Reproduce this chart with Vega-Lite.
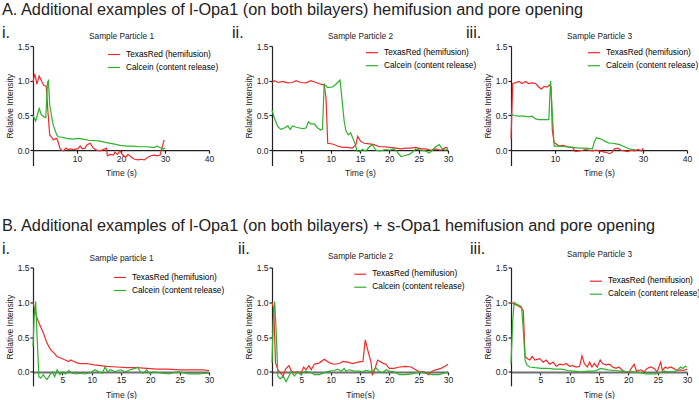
{
"$schema": "https://vega.github.io/schema/vega-lite/v6.json",
"autosize": {"type": "pad"},
"padding": {"left": 2, "top": 2, "right": 0, "bottom": 0},
"background": "white",
"config": {
 "font": "Liberation Sans",
 "view": {"stroke": null},
 "axis": {"grid": false, "labelFontSize": 8.5, "titleFontSize": 8.5, "titleFontWeight": "normal", "labelColor": "#222", "titleColor": "#222", "domainColor": "#222", "tickColor": "#222", "tickSize": 3, "labelPadding": 1, "labelFlush": false, "domainWidth": 1.2, "tickWidth": 1.2},
 "legend": {"symbolType": "stroke", "symbolSize": 144, "symbolStrokeWidth": 1.5, "labelFontSize": 8.3, "labelOffset": 5, "padding": 0, "rowPadding": 2},
 "title": {"fontWeight": "normal", "color": "#222", "fontSize": 16.3, "anchor": "start", "frame": "group", "offset": 0, "lineHeight": 23},
 "line": {"strokeWidth": 1.2}
},
"datasets": {
"a1": [
{"t":0,"v":0.98,"s":"TexasRed (hemifusion)"},{"t":0.4,"v":1.1,"s":"TexasRed (hemifusion)"},{"t":0.9,"v":0.95,"s":"TexasRed (hemifusion)"},{"t":1.4,"v":1.07,"s":"TexasRed (hemifusion)"},{"t":2.0,"v":0.99,"s":"TexasRed (hemifusion)"},{"t":2.5,"v":0.93,"s":"TexasRed (hemifusion)"},{"t":3.0,"v":0.92,"s":"TexasRed (hemifusion)"},{"t":3.4,"v":0.55,"s":"TexasRed (hemifusion)"},{"t":3.8,"v":0.22,"s":"TexasRed (hemifusion)"},{"t":4.2,"v":0.19,"s":"TexasRed (hemifusion)"},{"t":4.6,"v":0.15,"s":"TexasRed (hemifusion)"},{"t":5.0,"v":0.16,"s":"TexasRed (hemifusion)"},{"t":5.4,"v":0.17,"s":"TexasRed (hemifusion)"},{"t":5.8,"v":0.1,"s":"TexasRed (hemifusion)"},{"t":6.1,"v":0.03,"s":"TexasRed (hemifusion)"},{"t":6.5,"v":0.0,"s":"TexasRed (hemifusion)"},{"t":6.9,"v":-0.01,"s":"TexasRed (hemifusion)"},{"t":7.5,"v":0.03,"s":"TexasRed (hemifusion)"},{"t":8.0,"v":0.01,"s":"TexasRed (hemifusion)"},{"t":8.6,"v":0.02,"s":"TexasRed (hemifusion)"},{"t":9.2,"v":0.01,"s":"TexasRed (hemifusion)"},{"t":9.8,"v":0.02,"s":"TexasRed (hemifusion)"},{"t":10.2,"v":0.02,"s":"TexasRed (hemifusion)"},{"t":10.7,"v":0.06,"s":"TexasRed (hemifusion)"},{"t":11.2,"v":0.02,"s":"TexasRed (hemifusion)"},{"t":11.8,"v":0.03,"s":"TexasRed (hemifusion)"},{"t":12.3,"v":0.08,"s":"TexasRed (hemifusion)"},{"t":13.0,"v":0.1,"s":"TexasRed (hemifusion)"},{"t":13.7,"v":0.03,"s":"TexasRed (hemifusion)"},{"t":14.5,"v":0.0,"s":"TexasRed (hemifusion)"},{"t":15.2,"v":-0.01,"s":"TexasRed (hemifusion)"},{"t":16.0,"v":0.01,"s":"TexasRed (hemifusion)"},{"t":16.7,"v":0.03,"s":"TexasRed (hemifusion)"},{"t":16.9,"v":-0.08,"s":"TexasRed (hemifusion)"},{"t":17.5,"v":-0.06,"s":"TexasRed (hemifusion)"},{"t":18.3,"v":-0.07,"s":"TexasRed (hemifusion)"},{"t":18.6,"v":-0.03,"s":"TexasRed (hemifusion)"},{"t":19.2,"v":-0.06,"s":"TexasRed (hemifusion)"},{"t":19.8,"v":-0.01,"s":"TexasRed (hemifusion)"},{"t":20.4,"v":-0.07,"s":"TexasRed (hemifusion)"},{"t":21.1,"v":-0.1,"s":"TexasRed (hemifusion)"},{"t":21.6,"v":-0.06,"s":"TexasRed (hemifusion)"},{"t":22.4,"v":-0.1,"s":"TexasRed (hemifusion)"},{"t":23.1,"v":-0.13,"s":"TexasRed (hemifusion)"},{"t":23.9,"v":-0.14,"s":"TexasRed (hemifusion)"},{"t":24.6,"v":-0.13,"s":"TexasRed (hemifusion)"},{"t":25.3,"v":-0.14,"s":"TexasRed (hemifusion)"},{"t":26.1,"v":-0.1,"s":"TexasRed (hemifusion)"},{"t":26.8,"v":-0.08,"s":"TexasRed (hemifusion)"},{"t":27.5,"v":-0.07,"s":"TexasRed (hemifusion)"},{"t":28.2,"v":-0.08,"s":"TexasRed (hemifusion)"},{"t":28.9,"v":-0.07,"s":"TexasRed (hemifusion)"},{"t":29.3,"v":0.03,"s":"TexasRed (hemifusion)"},{"t":29.8,"v":0.15,"s":"TexasRed (hemifusion)"},
{"t":0,"v":0.5,"s":"Calcein (content release)"},{"t":0.6,"v":0.42,"s":"Calcein (content release)"},{"t":1.4,"v":0.6,"s":"Calcein (content release)"},{"t":1.9,"v":0.51,"s":"Calcein (content release)"},{"t":2.5,"v":0.48,"s":"Calcein (content release)"},{"t":2.9,"v":0.47,"s":"Calcein (content release)"},{"t":3.3,"v":0.98,"s":"Calcein (content release)"},{"t":3.5,"v":1.0,"s":"Calcein (content release)"},{"t":3.8,"v":0.65,"s":"Calcein (content release)"},{"t":4.2,"v":0.5,"s":"Calcein (content release)"},{"t":4.6,"v":0.36,"s":"Calcein (content release)"},{"t":5.0,"v":0.29,"s":"Calcein (content release)"},{"t":5.4,"v":0.22,"s":"Calcein (content release)"},{"t":5.8,"v":0.19,"s":"Calcein (content release)"},{"t":6.5,"v":0.19,"s":"Calcein (content release)"},{"t":7.6,"v":0.17,"s":"Calcein (content release)"},{"t":9.1,"v":0.16,"s":"Calcein (content release)"},{"t":10.3,"v":0.17,"s":"Calcein (content release)"},{"t":11.4,"v":0.16,"s":"Calcein (content release)"},{"t":12.9,"v":0.14,"s":"Calcein (content release)"},{"t":14.0,"v":0.14,"s":"Calcein (content release)"},{"t":15.2,"v":0.13,"s":"Calcein (content release)"},{"t":16.7,"v":0.11,"s":"Calcein (content release)"},{"t":18.3,"v":0.09,"s":"Calcein (content release)"},{"t":19.8,"v":0.07,"s":"Calcein (content release)"},{"t":21.3,"v":0.06,"s":"Calcein (content release)"},{"t":22.8,"v":0.06,"s":"Calcein (content release)"},{"t":24.3,"v":0.05,"s":"Calcein (content release)"},{"t":25.8,"v":0.05,"s":"Calcein (content release)"},{"t":27.0,"v":0.04,"s":"Calcein (content release)"},{"t":27.7,"v":0.04,"s":"Calcein (content release)"},{"t":28.1,"v":0.06,"s":"Calcein (content release)"},{"t":28.8,"v":0.04,"s":"Calcein (content release)"},{"t":29.5,"v":0.02,"s":"Calcein (content release)"},{"t":30,"v":0.03,"s":"Calcein (content release)"}
],
"a2": [
{"t":0,"v":0.975,"s":"TexasRed (hemifusion)"},{"t":0.4,"v":1.0,"s":"TexasRed (hemifusion)"},{"t":1.0,"v":0.975,"s":"TexasRed (hemifusion)"},{"t":1.8,"v":0.99,"s":"TexasRed (hemifusion)"},{"t":2.7,"v":0.97,"s":"TexasRed (hemifusion)"},{"t":3.5,"v":0.975,"s":"TexasRed (hemifusion)"},{"t":4.1,"v":1.0,"s":"TexasRed (hemifusion)"},{"t":4.9,"v":0.975,"s":"TexasRed (hemifusion)"},{"t":5.8,"v":0.97,"s":"TexasRed (hemifusion)"},{"t":6.6,"v":1.0,"s":"TexasRed (hemifusion)"},{"t":7.5,"v":0.975,"s":"TexasRed (hemifusion)"},{"t":8.3,"v":0.95,"s":"TexasRed (hemifusion)"},{"t":8.9,"v":0.94,"s":"TexasRed (hemifusion)"},{"t":9.2,"v":0.76,"s":"TexasRed (hemifusion)"},{"t":9.5,"v":0.1,"s":"TexasRed (hemifusion)"},{"t":10.3,"v":0.09,"s":"TexasRed (hemifusion)"},{"t":11.2,"v":0.06,"s":"TexasRed (hemifusion)"},{"t":12.0,"v":0.04,"s":"TexasRed (hemifusion)"},{"t":12.9,"v":0.04,"s":"TexasRed (hemifusion)"},{"t":13.7,"v":0.03,"s":"TexasRed (hemifusion)"},{"t":14.3,"v":0.08,"s":"TexasRed (hemifusion)"},{"t":14.6,"v":0.2,"s":"TexasRed (hemifusion)"},{"t":15.1,"v":0.13,"s":"TexasRed (hemifusion)"},{"t":15.7,"v":0.1,"s":"TexasRed (hemifusion)"},{"t":16.6,"v":0.09,"s":"TexasRed (hemifusion)"},{"t":17.4,"v":0.08,"s":"TexasRed (hemifusion)"},{"t":18.3,"v":0.05,"s":"TexasRed (hemifusion)"},{"t":19.1,"v":0.05,"s":"TexasRed (hemifusion)"},{"t":20.0,"v":0.04,"s":"TexasRed (hemifusion)"},{"t":21.1,"v":0.03,"s":"TexasRed (hemifusion)"},{"t":22.0,"v":0.02,"s":"TexasRed (hemifusion)"},{"t":22.8,"v":0.03,"s":"TexasRed (hemifusion)"},{"t":23.7,"v":0.03,"s":"TexasRed (hemifusion)"},{"t":24.5,"v":0.04,"s":"TexasRed (hemifusion)"},{"t":25.4,"v":0.02,"s":"TexasRed (hemifusion)"},{"t":26.2,"v":0.02,"s":"TexasRed (hemifusion)"},{"t":27.1,"v":0.0,"s":"TexasRed (hemifusion)"},{"t":27.9,"v":0.02,"s":"TexasRed (hemifusion)"},{"t":28.8,"v":0.0,"s":"TexasRed (hemifusion)"},{"t":29.6,"v":0.04,"s":"TexasRed (hemifusion)"},{"t":30,"v":0.03,"s":"TexasRed (hemifusion)"},
{"t":0,"v":0.58,"s":"Calcein (content release)"},{"t":0.4,"v":0.46,"s":"Calcein (content release)"},{"t":1.0,"v":0.34,"s":"Calcein (content release)"},{"t":1.5,"v":0.3,"s":"Calcein (content release)"},{"t":2.1,"v":0.32,"s":"Calcein (content release)"},{"t":2.7,"v":0.35,"s":"Calcein (content release)"},{"t":3.1,"v":0.3,"s":"Calcein (content release)"},{"t":3.5,"v":0.35,"s":"Calcein (content release)"},{"t":4.1,"v":0.33,"s":"Calcein (content release)"},{"t":4.7,"v":0.32,"s":"Calcein (content release)"},{"t":5.2,"v":0.31,"s":"Calcein (content release)"},{"t":5.8,"v":0.32,"s":"Calcein (content release)"},{"t":6.2,"v":0.41,"s":"Calcein (content release)"},{"t":6.6,"v":0.38,"s":"Calcein (content release)"},{"t":7.2,"v":0.38,"s":"Calcein (content release)"},{"t":7.8,"v":0.32,"s":"Calcein (content release)"},{"t":8.3,"v":0.29,"s":"Calcein (content release)"},{"t":8.6,"v":0.3,"s":"Calcein (content release)"},{"t":8.9,"v":0.95,"s":"Calcein (content release)"},{"t":9.5,"v":0.9,"s":"Calcein (content release)"},{"t":10.3,"v":0.91,"s":"Calcein (content release)"},{"t":10.9,"v":0.95,"s":"Calcein (content release)"},{"t":11.6,"v":1.01,"s":"Calcein (content release)"},{"t":11.9,"v":0.76,"s":"Calcein (content release)"},{"t":12.3,"v":0.42,"s":"Calcein (content release)"},{"t":12.6,"v":0.28,"s":"Calcein (content release)"},{"t":13.0,"v":0.22,"s":"Calcein (content release)"},{"t":13.4,"v":0.25,"s":"Calcein (content release)"},{"t":13.8,"v":0.17,"s":"Calcein (content release)"},{"t":14.2,"v":0.08,"s":"Calcein (content release)"},{"t":14.5,"v":-0.01,"s":"Calcein (content release)"},{"t":14.9,"v":-0.02,"s":"Calcein (content release)"},{"t":15.4,"v":0.01,"s":"Calcein (content release)"},{"t":16.0,"v":-0.01,"s":"Calcein (content release)"},{"t":16.6,"v":0.05,"s":"Calcein (content release)"},{"t":17.1,"v":0.08,"s":"Calcein (content release)"},{"t":17.7,"v":0.0,"s":"Calcein (content release)"},{"t":18.5,"v":-0.01,"s":"Calcein (content release)"},{"t":19.4,"v":0.01,"s":"Calcein (content release)"},{"t":20.0,"v":0.0,"s":"Calcein (content release)"},{"t":20.8,"v":0.02,"s":"Calcein (content release)"},{"t":21.4,"v":-0.03,"s":"Calcein (content release)"},{"t":22.0,"v":-0.09,"s":"Calcein (content release)"},{"t":22.5,"v":-0.08,"s":"Calcein (content release)"},{"t":23.4,"v":-0.06,"s":"Calcein (content release)"},{"t":23.9,"v":-0.03,"s":"Calcein (content release)"},{"t":24.5,"v":0.02,"s":"Calcein (content release)"},{"t":25.4,"v":0.0,"s":"Calcein (content release)"},{"t":26.2,"v":-0.01,"s":"Calcein (content release)"},{"t":26.8,"v":-0.04,"s":"Calcein (content release)"},{"t":27.3,"v":0.0,"s":"Calcein (content release)"},{"t":27.9,"v":0.05,"s":"Calcein (content release)"},{"t":28.5,"v":0.08,"s":"Calcein (content release)"},{"t":29.0,"v":0.02,"s":"Calcein (content release)"},{"t":29.6,"v":0.0,"s":"Calcein (content release)"},{"t":30,"v":0.02,"s":"Calcein (content release)"}
],
"a3": [
{"t":0,"v":0.16,"s":"TexasRed (hemifusion)"},{"t":0.4,"v":0.96,"s":"TexasRed (hemifusion)"},{"t":1.0,"v":0.97,"s":"TexasRed (hemifusion)"},{"t":1.8,"v":0.99,"s":"TexasRed (hemifusion)"},{"t":2.5,"v":0.96,"s":"TexasRed (hemifusion)"},{"t":3.3,"v":0.99,"s":"TexasRed (hemifusion)"},{"t":4.0,"v":0.96,"s":"TexasRed (hemifusion)"},{"t":4.8,"v":0.97,"s":"TexasRed (hemifusion)"},{"t":5.6,"v":0.96,"s":"TexasRed (hemifusion)"},{"t":6.3,"v":0.91,"s":"TexasRed (hemifusion)"},{"t":6.9,"v":0.88,"s":"TexasRed (hemifusion)"},{"t":7.5,"v":0.92,"s":"TexasRed (hemifusion)"},{"t":8.2,"v":0.91,"s":"TexasRed (hemifusion)"},{"t":8.8,"v":0.94,"s":"TexasRed (hemifusion)"},{"t":9.1,"v":0.91,"s":"TexasRed (hemifusion)"},{"t":9.4,"v":0.28,"s":"TexasRed (hemifusion)"},{"t":9.8,"v":0.11,"s":"TexasRed (hemifusion)"},{"t":10.3,"v":0.09,"s":"TexasRed (hemifusion)"},{"t":10.9,"v":0.06,"s":"TexasRed (hemifusion)"},{"t":11.7,"v":0.07,"s":"TexasRed (hemifusion)"},{"t":12.4,"v":0.06,"s":"TexasRed (hemifusion)"},{"t":13.2,"v":0.04,"s":"TexasRed (hemifusion)"},{"t":14.0,"v":0.04,"s":"TexasRed (hemifusion)"},{"t":14.6,"v":-0.02,"s":"TexasRed (hemifusion)"},{"t":15.5,"v":-0.01,"s":"TexasRed (hemifusion)"},{"t":16.3,"v":0.0,"s":"TexasRed (hemifusion)"},{"t":17.0,"v":0.01,"s":"TexasRed (hemifusion)"},{"t":17.8,"v":0.0,"s":"TexasRed (hemifusion)"},{"t":18.5,"v":-0.01,"s":"TexasRed (hemifusion)"},{"t":19.3,"v":0.0,"s":"TexasRed (hemifusion)"},{"t":20.0,"v":-0.01,"s":"TexasRed (hemifusion)"},{"t":20.8,"v":-0.02,"s":"TexasRed (hemifusion)"},{"t":21.6,"v":-0.03,"s":"TexasRed (hemifusion)"},{"t":22.4,"v":-0.05,"s":"TexasRed (hemifusion)"},{"t":23.0,"v":-0.03,"s":"TexasRed (hemifusion)"},{"t":23.5,"v":0.02,"s":"TexasRed (hemifusion)"},{"t":24.3,"v":0.03,"s":"TexasRed (hemifusion)"},{"t":25.0,"v":0.0,"s":"TexasRed (hemifusion)"},{"t":25.8,"v":-0.01,"s":"TexasRed (hemifusion)"},{"t":26.6,"v":-0.02,"s":"TexasRed (hemifusion)"},{"t":27.3,"v":0.0,"s":"TexasRed (hemifusion)"},{"t":28.1,"v":-0.01,"s":"TexasRed (hemifusion)"},{"t":28.9,"v":0.01,"s":"TexasRed (hemifusion)"},{"t":29.6,"v":-0.01,"s":"TexasRed (hemifusion)"},{"t":30.1,"v":0.03,"s":"TexasRed (hemifusion)"},
{"t":0,"v":0.52,"s":"Calcein (content release)"},{"t":0.6,"v":0.5,"s":"Calcein (content release)"},{"t":1.8,"v":0.49,"s":"Calcein (content release)"},{"t":2.9,"v":0.49,"s":"Calcein (content release)"},{"t":4.0,"v":0.48,"s":"Calcein (content release)"},{"t":4.8,"v":0.49,"s":"Calcein (content release)"},{"t":5.6,"v":0.45,"s":"Calcein (content release)"},{"t":6.3,"v":0.44,"s":"Calcein (content release)"},{"t":7.1,"v":0.44,"s":"Calcein (content release)"},{"t":7.9,"v":0.44,"s":"Calcein (content release)"},{"t":8.6,"v":0.44,"s":"Calcein (content release)"},{"t":9.0,"v":1.0,"s":"Calcein (content release)"},{"t":9.4,"v":0.52,"s":"Calcein (content release)"},{"t":9.8,"v":0.06,"s":"Calcein (content release)"},{"t":10.9,"v":0.06,"s":"Calcein (content release)"},{"t":12.4,"v":0.05,"s":"Calcein (content release)"},{"t":14.0,"v":0.04,"s":"Calcein (content release)"},{"t":15.5,"v":0.03,"s":"Calcein (content release)"},{"t":17.0,"v":0.03,"s":"Calcein (content release)"},{"t":18.5,"v":0.02,"s":"Calcein (content release)"},{"t":18.9,"v":0.11,"s":"Calcein (content release)"},{"t":19.4,"v":0.18,"s":"Calcein (content release)"},{"t":20.0,"v":0.17,"s":"Calcein (content release)"},{"t":20.8,"v":0.15,"s":"Calcein (content release)"},{"t":21.6,"v":0.12,"s":"Calcein (content release)"},{"t":22.4,"v":0.1,"s":"Calcein (content release)"},{"t":23.1,"v":0.1,"s":"Calcein (content release)"},{"t":23.9,"v":0.09,"s":"Calcein (content release)"},{"t":24.7,"v":0.08,"s":"Calcein (content release)"},{"t":25.4,"v":0.06,"s":"Calcein (content release)"},{"t":26.2,"v":0.04,"s":"Calcein (content release)"},{"t":26.9,"v":0.02,"s":"Calcein (content release)"},{"t":27.7,"v":0.01,"s":"Calcein (content release)"},{"t":28.3,"v":0.01,"s":"Calcein (content release)"}
],
"b1": [
{"t":0,"v":1.0,"s":"TexasRed (hemifusion)"},{"t":0.3,"v":0.89,"s":"TexasRed (hemifusion)"},{"t":0.7,"v":0.77,"s":"TexasRed (hemifusion)"},{"t":1.3,"v":0.65,"s":"TexasRed (hemifusion)"},{"t":1.9,"v":0.53,"s":"TexasRed (hemifusion)"},{"t":2.4,"v":0.41,"s":"TexasRed (hemifusion)"},{"t":3.0,"v":0.32,"s":"TexasRed (hemifusion)"},{"t":3.6,"v":0.27,"s":"TexasRed (hemifusion)"},{"t":4.1,"v":0.22,"s":"TexasRed (hemifusion)"},{"t":4.7,"v":0.2,"s":"TexasRed (hemifusion)"},{"t":5.5,"v":0.17,"s":"TexasRed (hemifusion)"},{"t":6.1,"v":0.15,"s":"TexasRed (hemifusion)"},{"t":6.4,"v":0.17,"s":"TexasRed (hemifusion)"},{"t":7.0,"v":0.15,"s":"TexasRed (hemifusion)"},{"t":7.5,"v":0.13,"s":"TexasRed (hemifusion)"},{"t":8.1,"v":0.12,"s":"TexasRed (hemifusion)"},{"t":9.2,"v":0.12,"s":"TexasRed (hemifusion)"},{"t":10.4,"v":0.1,"s":"TexasRed (hemifusion)"},{"t":11.5,"v":0.09,"s":"TexasRed (hemifusion)"},{"t":12.6,"v":0.08,"s":"TexasRed (hemifusion)"},{"t":14.3,"v":0.07,"s":"TexasRed (hemifusion)"},{"t":16.0,"v":0.06,"s":"TexasRed (hemifusion)"},{"t":17.7,"v":0.06,"s":"TexasRed (hemifusion)"},{"t":19.4,"v":0.05,"s":"TexasRed (hemifusion)"},{"t":21.1,"v":0.04,"s":"TexasRed (hemifusion)"},{"t":22.8,"v":0.04,"s":"TexasRed (hemifusion)"},{"t":25.1,"v":0.03,"s":"TexasRed (hemifusion)"},{"t":27.3,"v":0.03,"s":"TexasRed (hemifusion)"},{"t":29.0,"v":0.03,"s":"TexasRed (hemifusion)"},{"t":30,"v":0.02,"s":"TexasRed (hemifusion)"},
{"t":0,"v":0.36,"s":"Calcein (content release)"},{"t":0.2,"v":0.8,"s":"Calcein (content release)"},{"t":0.45,"v":1.01,"s":"Calcein (content release)"},{"t":0.7,"v":0.5,"s":"Calcein (content release)"},{"t":1.0,"v":-0.07,"s":"Calcein (content release)"},{"t":1.3,"v":-0.09,"s":"Calcein (content release)"},{"t":1.75,"v":-0.04,"s":"Calcein (content release)"},{"t":2.15,"v":-0.09,"s":"Calcein (content release)"},{"t":2.4,"v":-0.11,"s":"Calcein (content release)"},{"t":2.9,"v":-0.04,"s":"Calcein (content release)"},{"t":3.3,"v":0.0,"s":"Calcein (content release)"},{"t":3.7,"v":-0.07,"s":"Calcein (content release)"},{"t":4.1,"v":0.03,"s":"Calcein (content release)"},{"t":4.6,"v":-0.04,"s":"Calcein (content release)"},{"t":5.0,"v":0.0,"s":"Calcein (content release)"},{"t":5.5,"v":-0.03,"s":"Calcein (content release)"},{"t":6.1,"v":0.02,"s":"Calcein (content release)"},{"t":6.7,"v":-0.02,"s":"Calcein (content release)"},{"t":7.2,"v":-0.03,"s":"Calcein (content release)"},{"t":8.1,"v":-0.02,"s":"Calcein (content release)"},{"t":8.9,"v":-0.03,"s":"Calcein (content release)"},{"t":9.8,"v":-0.01,"s":"Calcein (content release)"},{"t":10.6,"v":0.03,"s":"Calcein (content release)"},{"t":11.2,"v":0.0,"s":"Calcein (content release)"},{"t":11.8,"v":-0.02,"s":"Calcein (content release)"},{"t":12.3,"v":0.07,"s":"Calcein (content release)"},{"t":12.7,"v":0.0,"s":"Calcein (content release)"},{"t":13.2,"v":0.03,"s":"Calcein (content release)"},{"t":14.0,"v":0.0,"s":"Calcein (content release)"},{"t":14.9,"v":0.03,"s":"Calcein (content release)"},{"t":15.7,"v":0.0,"s":"Calcein (content release)"},{"t":16.6,"v":0.03,"s":"Calcein (content release)"},{"t":17.4,"v":0.05,"s":"Calcein (content release)"},{"t":17.8,"v":0.07,"s":"Calcein (content release)"},{"t":18.3,"v":0.0,"s":"Calcein (content release)"},{"t":18.8,"v":-0.02,"s":"Calcein (content release)"},{"t":19.4,"v":0.03,"s":"Calcein (content release)"},{"t":20.0,"v":-0.03,"s":"Calcein (content release)"},{"t":20.5,"v":0.0,"s":"Calcein (content release)"},{"t":21.4,"v":-0.01,"s":"Calcein (content release)"},{"t":22.2,"v":-0.02,"s":"Calcein (content release)"},{"t":23.1,"v":-0.03,"s":"Calcein (content release)"},{"t":23.9,"v":-0.01,"s":"Calcein (content release)"},{"t":24.8,"v":0.0,"s":"Calcein (content release)"},{"t":25.6,"v":-0.01,"s":"Calcein (content release)"},{"t":26.5,"v":-0.03,"s":"Calcein (content release)"},{"t":27.3,"v":-0.03,"s":"Calcein (content release)"},{"t":28.5,"v":-0.03,"s":"Calcein (content release)"},{"t":29.3,"v":-0.02,"s":"Calcein (content release)"},{"t":30,"v":-0.02,"s":"Calcein (content release)"}
],
"b2": [
{"t":0,"v":1.0,"s":"TexasRed (hemifusion)"},{"t":0.3,"v":0.9,"s":"TexasRed (hemifusion)"},{"t":0.6,"v":0.13,"s":"TexasRed (hemifusion)"},{"t":1.0,"v":0.03,"s":"TexasRed (hemifusion)"},{"t":1.4,"v":-0.01,"s":"TexasRed (hemifusion)"},{"t":1.9,"v":-0.06,"s":"TexasRed (hemifusion)"},{"t":2.3,"v":0.04,"s":"TexasRed (hemifusion)"},{"t":2.9,"v":0.09,"s":"TexasRed (hemifusion)"},{"t":3.3,"v":0.01,"s":"TexasRed (hemifusion)"},{"t":3.8,"v":-0.01,"s":"TexasRed (hemifusion)"},{"t":4.4,"v":0.0,"s":"TexasRed (hemifusion)"},{"t":5.0,"v":-0.01,"s":"TexasRed (hemifusion)"},{"t":5.4,"v":0.07,"s":"TexasRed (hemifusion)"},{"t":5.8,"v":0.03,"s":"TexasRed (hemifusion)"},{"t":6.3,"v":0.09,"s":"TexasRed (hemifusion)"},{"t":6.7,"v":0.03,"s":"TexasRed (hemifusion)"},{"t":7.2,"v":0.11,"s":"TexasRed (hemifusion)"},{"t":8.1,"v":0.13,"s":"TexasRed (hemifusion)"},{"t":8.9,"v":0.18,"s":"TexasRed (hemifusion)"},{"t":9.8,"v":0.13,"s":"TexasRed (hemifusion)"},{"t":10.6,"v":0.11,"s":"TexasRed (hemifusion)"},{"t":11.5,"v":0.12,"s":"TexasRed (hemifusion)"},{"t":12.1,"v":0.15,"s":"TexasRed (hemifusion)"},{"t":12.9,"v":0.14,"s":"TexasRed (hemifusion)"},{"t":13.8,"v":0.12,"s":"TexasRed (hemifusion)"},{"t":14.6,"v":0.14,"s":"TexasRed (hemifusion)"},{"t":15.5,"v":0.15,"s":"TexasRed (hemifusion)"},{"t":15.9,"v":0.46,"s":"TexasRed (hemifusion)"},{"t":16.3,"v":0.32,"s":"TexasRed (hemifusion)"},{"t":16.9,"v":0.13,"s":"TexasRed (hemifusion)"},{"t":17.1,"v":-0.05,"s":"TexasRed (hemifusion)"},{"t":17.6,"v":0.06,"s":"TexasRed (hemifusion)"},{"t":18.0,"v":0.17,"s":"TexasRed (hemifusion)"},{"t":18.8,"v":0.13,"s":"TexasRed (hemifusion)"},{"t":19.4,"v":0.11,"s":"TexasRed (hemifusion)"},{"t":20.0,"v":0.05,"s":"TexasRed (hemifusion)"},{"t":20.8,"v":0.05,"s":"TexasRed (hemifusion)"},{"t":21.7,"v":0.07,"s":"TexasRed (hemifusion)"},{"t":22.8,"v":0.08,"s":"TexasRed (hemifusion)"},{"t":23.7,"v":0.07,"s":"TexasRed (hemifusion)"},{"t":24.5,"v":0.03,"s":"TexasRed (hemifusion)"},{"t":25.1,"v":0.0,"s":"TexasRed (hemifusion)"},{"t":25.9,"v":0.0,"s":"TexasRed (hemifusion)"},{"t":26.7,"v":-0.04,"s":"TexasRed (hemifusion)"},{"t":27.3,"v":0.01,"s":"TexasRed (hemifusion)"},{"t":27.9,"v":0.03,"s":"TexasRed (hemifusion)"},{"t":28.8,"v":0.05,"s":"TexasRed (hemifusion)"},{"t":29.5,"v":0.08,"s":"TexasRed (hemifusion)"},{"t":30,"v":0.11,"s":"TexasRed (hemifusion)"},
{"t":0,"v":0.13,"s":"Calcein (content release)"},{"t":0.2,"v":0.71,"s":"Calcein (content release)"},{"t":0.45,"v":1.01,"s":"Calcein (content release)"},{"t":0.7,"v":0.61,"s":"Calcein (content release)"},{"t":1.0,"v":-0.06,"s":"Calcein (content release)"},{"t":1.4,"v":-0.1,"s":"Calcein (content release)"},{"t":1.9,"v":-0.06,"s":"Calcein (content release)"},{"t":2.4,"v":-0.14,"s":"Calcein (content release)"},{"t":2.9,"v":-0.06,"s":"Calcein (content release)"},{"t":3.3,"v":0.01,"s":"Calcein (content release)"},{"t":3.8,"v":-0.06,"s":"Calcein (content release)"},{"t":4.4,"v":0.0,"s":"Calcein (content release)"},{"t":4.9,"v":-0.04,"s":"Calcein (content release)"},{"t":5.3,"v":-0.01,"s":"Calcein (content release)"},{"t":5.8,"v":0.01,"s":"Calcein (content release)"},{"t":6.7,"v":-0.01,"s":"Calcein (content release)"},{"t":7.2,"v":-0.04,"s":"Calcein (content release)"},{"t":8.1,"v":-0.04,"s":"Calcein (content release)"},{"t":8.9,"v":-0.01,"s":"Calcein (content release)"},{"t":9.8,"v":0.01,"s":"Calcein (content release)"},{"t":10.6,"v":0.02,"s":"Calcein (content release)"},{"t":11.2,"v":0.04,"s":"Calcein (content release)"},{"t":11.8,"v":0.01,"s":"Calcein (content release)"},{"t":12.3,"v":0.05,"s":"Calcein (content release)"},{"t":12.6,"v":0.01,"s":"Calcein (content release)"},{"t":13.2,"v":0.03,"s":"Calcein (content release)"},{"t":14.0,"v":0.01,"s":"Calcein (content release)"},{"t":14.9,"v":0.01,"s":"Calcein (content release)"},{"t":15.5,"v":0.0,"s":"Calcein (content release)"},{"t":16.0,"v":0.02,"s":"Calcein (content release)"},{"t":16.6,"v":0.01,"s":"Calcein (content release)"},{"t":17.1,"v":0.0,"s":"Calcein (content release)"},{"t":17.7,"v":0.06,"s":"Calcein (content release)"},{"t":18.3,"v":0.0,"s":"Calcein (content release)"},{"t":18.8,"v":-0.01,"s":"Calcein (content release)"},{"t":19.5,"v":0.03,"s":"Calcein (content release)"},{"t":20.0,"v":0.01,"s":"Calcein (content release)"},{"t":20.8,"v":0.0,"s":"Calcein (content release)"},{"t":21.7,"v":-0.04,"s":"Calcein (content release)"},{"t":22.8,"v":-0.04,"s":"Calcein (content release)"},{"t":23.9,"v":-0.03,"s":"Calcein (content release)"},{"t":25.1,"v":0.0,"s":"Calcein (content release)"},{"t":26.2,"v":-0.02,"s":"Calcein (content release)"},{"t":27.3,"v":-0.04,"s":"Calcein (content release)"},{"t":28.5,"v":-0.04,"s":"Calcein (content release)"},{"t":29.3,"v":-0.02,"s":"Calcein (content release)"},{"t":30,"v":0.0,"s":"Calcein (content release)"}
],
"b3": [
{"t":0,"v":1.0,"s":"TexasRed (hemifusion)"},{"t":0.7,"v":0.97,"s":"TexasRed (hemifusion)"},{"t":1.2,"v":0.95,"s":"TexasRed (hemifusion)"},{"t":1.8,"v":0.92,"s":"TexasRed (hemifusion)"},{"t":2.1,"v":0.88,"s":"TexasRed (hemifusion)"},{"t":2.4,"v":0.22,"s":"TexasRed (hemifusion)"},{"t":2.8,"v":0.19,"s":"TexasRed (hemifusion)"},{"t":3.2,"v":0.17,"s":"TexasRed (hemifusion)"},{"t":3.6,"v":0.22,"s":"TexasRed (hemifusion)"},{"t":4.1,"v":0.17,"s":"TexasRed (hemifusion)"},{"t":4.5,"v":0.18,"s":"TexasRed (hemifusion)"},{"t":4.9,"v":0.19,"s":"TexasRed (hemifusion)"},{"t":5.5,"v":0.14,"s":"TexasRed (hemifusion)"},{"t":6.0,"v":0.17,"s":"TexasRed (hemifusion)"},{"t":6.6,"v":0.11,"s":"TexasRed (hemifusion)"},{"t":7.2,"v":0.14,"s":"TexasRed (hemifusion)"},{"t":7.7,"v":0.08,"s":"TexasRed (hemifusion)"},{"t":8.3,"v":0.11,"s":"TexasRed (hemifusion)"},{"t":8.9,"v":0.1,"s":"TexasRed (hemifusion)"},{"t":9.4,"v":0.12,"s":"TexasRed (hemifusion)"},{"t":10.0,"v":0.08,"s":"TexasRed (hemifusion)"},{"t":10.5,"v":0.09,"s":"TexasRed (hemifusion)"},{"t":11.1,"v":0.07,"s":"TexasRed (hemifusion)"},{"t":11.7,"v":0.08,"s":"TexasRed (hemifusion)"},{"t":12.1,"v":0.23,"s":"TexasRed (hemifusion)"},{"t":12.5,"v":0.12,"s":"TexasRed (hemifusion)"},{"t":13.0,"v":0.07,"s":"TexasRed (hemifusion)"},{"t":13.4,"v":0.14,"s":"TexasRed (hemifusion)"},{"t":13.8,"v":0.07,"s":"TexasRed (hemifusion)"},{"t":14.2,"v":0.12,"s":"TexasRed (hemifusion)"},{"t":14.7,"v":0.07,"s":"TexasRed (hemifusion)"},{"t":15.2,"v":0.17,"s":"TexasRed (hemifusion)"},{"t":15.6,"v":0.12,"s":"TexasRed (hemifusion)"},{"t":16.2,"v":0.1,"s":"TexasRed (hemifusion)"},{"t":16.8,"v":0.11,"s":"TexasRed (hemifusion)"},{"t":17.3,"v":0.07,"s":"TexasRed (hemifusion)"},{"t":17.9,"v":0.05,"s":"TexasRed (hemifusion)"},{"t":18.4,"v":0.07,"s":"TexasRed (hemifusion)"},{"t":19.0,"v":0.02,"s":"TexasRed (hemifusion)"},{"t":19.6,"v":0.0,"s":"TexasRed (hemifusion)"},{"t":20.1,"v":-0.01,"s":"TexasRed (hemifusion)"},{"t":20.5,"v":0.05,"s":"TexasRed (hemifusion)"},{"t":21.0,"v":0.11,"s":"TexasRed (hemifusion)"},{"t":21.4,"v":0.01,"s":"TexasRed (hemifusion)"},{"t":22.1,"v":0.03,"s":"TexasRed (hemifusion)"},{"t":22.7,"v":0.0,"s":"TexasRed (hemifusion)"},{"t":23.2,"v":0.05,"s":"TexasRed (hemifusion)"},{"t":23.8,"v":0.07,"s":"TexasRed (hemifusion)"},{"t":24.4,"v":0.05,"s":"TexasRed (hemifusion)"},{"t":24.9,"v":0.0,"s":"TexasRed (hemifusion)"},{"t":25.5,"v":0.14,"s":"TexasRed (hemifusion)"},{"t":25.8,"v":0.02,"s":"TexasRed (hemifusion)"},{"t":26.3,"v":0.07,"s":"TexasRed (hemifusion)"},{"t":26.7,"v":0.05,"s":"TexasRed (hemifusion)"},{"t":27.2,"v":0.07,"s":"TexasRed (hemifusion)"},{"t":27.7,"v":0.05,"s":"TexasRed (hemifusion)"},{"t":28.3,"v":0.02,"s":"TexasRed (hemifusion)"},{"t":28.9,"v":0.03,"s":"TexasRed (hemifusion)"},{"t":29.4,"v":0.02,"s":"TexasRed (hemifusion)"},{"t":30,"v":0.04,"s":"TexasRed (hemifusion)"},
{"t":0,"v":0.12,"s":"Calcein (content release)"},{"t":0.3,"v":0.75,"s":"Calcein (content release)"},{"t":0.55,"v":1.0,"s":"Calcein (content release)"},{"t":1.0,"v":0.97,"s":"Calcein (content release)"},{"t":1.5,"v":0.95,"s":"Calcein (content release)"},{"t":1.8,"v":0.93,"s":"Calcein (content release)"},{"t":2.1,"v":0.6,"s":"Calcein (content release)"},{"t":2.4,"v":0.17,"s":"Calcein (content release)"},{"t":2.7,"v":0.1,"s":"Calcein (content release)"},{"t":3.2,"v":0.07,"s":"Calcein (content release)"},{"t":4.1,"v":0.06,"s":"Calcein (content release)"},{"t":5.2,"v":0.05,"s":"Calcein (content release)"},{"t":6.3,"v":0.05,"s":"Calcein (content release)"},{"t":7.4,"v":0.04,"s":"Calcein (content release)"},{"t":8.6,"v":0.04,"s":"Calcein (content release)"},{"t":9.7,"v":0.02,"s":"Calcein (content release)"},{"t":10.8,"v":0.01,"s":"Calcein (content release)"},{"t":11.9,"v":0.0,"s":"Calcein (content release)"},{"t":13.1,"v":0.01,"s":"Calcein (content release)"},{"t":14.2,"v":0.01,"s":"Calcein (content release)"},{"t":15.3,"v":0.05,"s":"Calcein (content release)"},{"t":16.5,"v":0.03,"s":"Calcein (content release)"},{"t":17.6,"v":0.02,"s":"Calcein (content release)"},{"t":18.7,"v":0.01,"s":"Calcein (content release)"},{"t":19.9,"v":0.0,"s":"Calcein (content release)"},{"t":21.0,"v":0.0,"s":"Calcein (content release)"},{"t":22.1,"v":-0.01,"s":"Calcein (content release)"},{"t":23.0,"v":-0.03,"s":"Calcein (content release)"},{"t":23.8,"v":-0.03,"s":"Calcein (content release)"},{"t":24.7,"v":-0.03,"s":"Calcein (content release)"},{"t":25.2,"v":-0.02,"s":"Calcein (content release)"},{"t":26.1,"v":0.01,"s":"Calcein (content release)"},{"t":27.0,"v":0.0,"s":"Calcein (content release)"},{"t":27.7,"v":0.0,"s":"Calcein (content release)"},{"t":28.3,"v":0.02,"s":"Calcein (content release)"},{"t":28.9,"v":0.07,"s":"Calcein (content release)"},{"t":29.3,"v":0.05,"s":"Calcein (content release)"},{"t":29.7,"v":0.08,"s":"Calcein (content release)"},{"t":30,"v":0.07,"s":"Calcein (content release)"}
]
},
"columns": 3,
"spacing": {"row": 101.5, "column": 63},
"bounds": "flush",
"resolve": {"scale": {"color": "independent"}, "legend": {"color": "independent"}},
"concat": [
{
 "data": {"name": "a1"}, "width": 176, "height": 119.5,
 "title": {"text": ["A. Additional examples of l-Opa1 (on both bilayers) hemifusion and pore opening", "i."], "dx": -31, "dy": 14.5},
 "layer": [
  {"transform": [{"filter": "datum.s == 'TexasRed (hemifusion)'"}], "mark": "line",
   "encoding": {
    "x": {"field": "t", "type": "quantitative", "scale": {"domain": [0, 40], "nice": false, "zero": false}, "axis": {"orient": "bottom", "values": [10, 20, 30, 40], "title": "Time (s)", "offset": -15.3, "titlePadding": 6}},
    "y": {"field": "v", "type": "quantitative", "scale": {"domain": [-0.22, 1.5], "nice": false, "zero": false}, "axis": {"values": [0, 0.5, 1, 1.5], "format": ".1f", "title": "Relative Intensity", "titlePadding": 3}},
    "color": {"field": "s", "type": "nominal", "scale": {"domain": ["TexasRed (hemifusion)", "Calcein (content release)"], "range": ["#ef2b2b", "#2eb22e"]}, "legend": {"title": null, "orient": "none", "legendX": 74, "legendY": 1.5, "encode": {"labels": {"update": {"fill": {"signal": "datum.value == 'TexasRed (hemifusion)' ? '#ef2b2b' : '#2eb22e'"}}}}}}
   }},
  {"transform": [{"filter": "datum.s == 'Calcein (content release)'"}], "mark": "line",
   "encoding": {
    "x": {"field": "t", "type": "quantitative", "scale": {"domain": [0, 40], "nice": false, "zero": false}, "axis": {"orient": "top", "title": "Sample Particle 1", "labels": false, "ticks": false, "domain": false, "titlePadding": 6, "titleFontSize": 8.3}},
    "y": {"field": "v", "type": "quantitative", "scale": {"domain": [-0.22, 1.5], "nice": false, "zero": false}, "axis": {"values": [0, 0.5, 1, 1.5], "format": ".1f", "title": "Relative Intensity", "titlePadding": 3}},
    "color": {"field": "s", "type": "nominal", "scale": {"domain": ["TexasRed (hemifusion)", "Calcein (content release)"], "range": ["#ef2b2b", "#2eb22e"]}, "legend": {"title": null, "orient": "none", "legendX": 74, "legendY": 1.5, "encode": {"labels": {"update": {"fill": {"signal": "datum.value == 'TexasRed (hemifusion)' ? '#ef2b2b' : '#2eb22e'"}}}}}}
   }}
 ],
 "resolve": {"axis": {"x": "independent"}}
},
{
 "data": {"name": "a2"}, "width": 176, "height": 119.5,
 "title": {"text": "ii.", "dx": -40, "dy": 14.5},
 "layer": [
  {"transform": [{"filter": "datum.s == 'TexasRed (hemifusion)'"}], "mark": "line",
   "encoding": {
    "x": {"field": "t", "type": "quantitative", "scale": {"domain": [0, 30], "nice": false, "zero": false}, "axis": {"orient": "bottom", "values": [5, 10, 15, 20, 25, 30], "title": "Time (s)", "offset": -15.3, "titlePadding": 6}},
    "y": {"field": "v", "type": "quantitative", "scale": {"domain": [-0.22, 1.5], "nice": false, "zero": false}, "axis": {"values": [0, 0.5, 1, 1.5], "format": ".1f", "title": "Relative Intensity", "titlePadding": 3}},
    "color": {"field": "s", "type": "nominal", "scale": {"domain": ["TexasRed (hemifusion)", "Calcein (content release)"], "range": ["#ef2b2b", "#2eb22e"]}, "legend": {"title": null, "orient": "none", "legendX": 93, "legendY": -0.3, "encode": {"labels": {"update": {"fill": {"signal": "datum.value == 'TexasRed (hemifusion)' ? '#ef2b2b' : '#2eb22e'"}}}}}}
   }},
  {"transform": [{"filter": "datum.s == 'Calcein (content release)'"}], "mark": "line",
   "encoding": {
    "x": {"field": "t", "type": "quantitative", "scale": {"domain": [0, 30], "nice": false, "zero": false}, "axis": {"orient": "top", "title": "Sample Particle 2", "labels": false, "ticks": false, "domain": false, "titlePadding": 6, "titleFontSize": 8.3}},
    "y": {"field": "v", "type": "quantitative", "scale": {"domain": [-0.22, 1.5], "nice": false, "zero": false}, "axis": {"values": [0, 0.5, 1, 1.5], "format": ".1f", "title": "Relative Intensity", "titlePadding": 3}},
    "color": {"field": "s", "type": "nominal", "scale": {"domain": ["TexasRed (hemifusion)", "Calcein (content release)"], "range": ["#ef2b2b", "#2eb22e"]}, "legend": {"title": null, "orient": "none", "legendX": 93, "legendY": -0.3, "encode": {"labels": {"update": {"fill": {"signal": "datum.value == 'TexasRed (hemifusion)' ? '#ef2b2b' : '#2eb22e'"}}}}}}
   }}
 ],
 "resolve": {"axis": {"x": "independent"}}
},
{
 "data": {"name": "a3"}, "width": 176, "height": 119.5,
 "title": {"text": "iii.", "dx": -45, "dy": 14.5},
 "layer": [
  {"transform": [{"filter": "datum.s == 'TexasRed (hemifusion)'"}], "mark": "line",
   "encoding": {
    "x": {"field": "t", "type": "quantitative", "scale": {"domain": [0, 40], "nice": false, "zero": false}, "axis": {"orient": "bottom", "values": [10, 20, 30, 40], "title": "Time (s)", "offset": -15.3, "titlePadding": 6}},
    "y": {"field": "v", "type": "quantitative", "scale": {"domain": [-0.22, 1.5], "nice": false, "zero": false}, "axis": {"values": [0, 0.5, 1, 1.5], "format": ".1f", "title": "Relative Intensity", "titlePadding": 3}},
    "color": {"field": "s", "type": "nominal", "scale": {"domain": ["TexasRed (hemifusion)", "Calcein (content release)"], "range": ["#ef2b2b", "#2eb22e"]}, "legend": {"title": null, "orient": "none", "legendX": 76, "legendY": -0.3, "encode": {"labels": {"update": {"fill": {"signal": "datum.value == 'TexasRed (hemifusion)' ? '#ef2b2b' : '#2eb22e'"}}}}}}
   }},
  {"transform": [{"filter": "datum.s == 'Calcein (content release)'"}], "mark": "line",
   "encoding": {
    "x": {"field": "t", "type": "quantitative", "scale": {"domain": [0, 40], "nice": false, "zero": false}, "axis": {"orient": "top", "title": "Sample Particle 3", "labels": false, "ticks": false, "domain": false, "titlePadding": 6, "titleFontSize": 8.3}},
    "y": {"field": "v", "type": "quantitative", "scale": {"domain": [-0.22, 1.5], "nice": false, "zero": false}, "axis": {"values": [0, 0.5, 1, 1.5], "format": ".1f", "title": "Relative Intensity", "titlePadding": 3}},
    "color": {"field": "s", "type": "nominal", "scale": {"domain": ["TexasRed (hemifusion)", "Calcein (content release)"], "range": ["#ef2b2b", "#2eb22e"]}, "legend": {"title": null, "orient": "none", "legendX": 76, "legendY": -0.3, "encode": {"labels": {"update": {"fill": {"signal": "datum.value == 'TexasRed (hemifusion)' ? '#ef2b2b' : '#2eb22e'"}}}}}}
   }}
 ],
 "resolve": {"axis": {"x": "independent"}}
},
{
 "data": {"name": "b1"}, "width": 176, "height": 118.3,
 "title": {"text": ["B. Additional examples of l-Opa1 (on both bilayers) + s-Opa1 hemifusion and pore opening", "i."], "dx": -31, "dy": 8},
 "layer": [
  {"transform": [{"filter": "datum.s == 'TexasRed (hemifusion)'"}], "mark": "line",
   "encoding": {
    "x": {"field": "t", "type": "quantitative", "scale": {"domain": [0, 30], "nice": false, "zero": false}, "axis": {"orient": "bottom", "values": [5, 10, 15, 20, 25, 30], "title": "Time (s)", "offset": -13.9, "titlePadding": 6, "domainColor": "#6e6e6e", "domainWidth": 2}},
    "y": {"field": "v", "type": "quantitative", "scale": {"domain": [-0.2, 1.5], "nice": false, "zero": false}, "axis": {"values": [0, 0.5, 1, 1.5], "format": ".1f", "title": "Relative Intensity", "titlePadding": 3}},
    "color": {"field": "s", "type": "nominal", "scale": {"domain": ["TexasRed (hemifusion)", "Calcein (content release)"], "range": ["#ef2b2b", "#2eb22e"]}, "legend": {"title": null, "orient": "none", "legendX": 80, "legendY": 3, "encode": {"labels": {"update": {"fill": {"signal": "datum.value == 'TexasRed (hemifusion)' ? '#ef2b2b' : '#2eb22e'"}}}}}}
   }},
  {"transform": [{"filter": "datum.s == 'Calcein (content release)'"}], "mark": "line",
   "encoding": {
    "x": {"field": "t", "type": "quantitative", "scale": {"domain": [0, 30], "nice": false, "zero": false}, "axis": {"orient": "top", "title": "Sample particle 1", "labels": false, "ticks": false, "domain": false, "titlePadding": 5, "titleFontSize": 8.3}},
    "y": {"field": "v", "type": "quantitative", "scale": {"domain": [-0.2, 1.5], "nice": false, "zero": false}, "axis": {"values": [0, 0.5, 1, 1.5], "format": ".1f", "title": "Relative Intensity", "titlePadding": 3}},
    "color": {"field": "s", "type": "nominal", "scale": {"domain": ["TexasRed (hemifusion)", "Calcein (content release)"], "range": ["#ef2b2b", "#2eb22e"]}, "legend": {"title": null, "orient": "none", "legendX": 80, "legendY": 3, "encode": {"labels": {"update": {"fill": {"signal": "datum.value == 'TexasRed (hemifusion)' ? '#ef2b2b' : '#2eb22e'"}}}}}}
   }}
 ],
 "resolve": {"axis": {"x": "independent"}}
},
{
 "data": {"name": "b2"}, "width": 176, "height": 118.3,
 "title": {"text": "ii.", "dx": -34, "dy": 10},
 "layer": [
  {"transform": [{"filter": "datum.s == 'TexasRed (hemifusion)'"}], "mark": "line",
   "encoding": {
    "x": {"field": "t", "type": "quantitative", "scale": {"domain": [0, 30], "nice": false, "zero": false}, "axis": {"orient": "bottom", "values": [5, 10, 15, 20, 25, 30], "title": "Time(s)", "offset": -13.9, "titlePadding": 6, "domainColor": "#6e6e6e", "domainWidth": 2}},
    "y": {"field": "v", "type": "quantitative", "scale": {"domain": [-0.2, 1.5], "nice": false, "zero": false}, "axis": {"values": [0, 0.5, 1, 1.5], "format": ".1f", "title": "Relative Intensity", "titlePadding": 3}},
    "color": {"field": "s", "type": "nominal", "scale": {"domain": ["TexasRed (hemifusion)", "Calcein (content release)"], "range": ["#ef2b2b", "#2eb22e"]}, "legend": {"title": null, "orient": "none", "legendX": 81.3, "legendY": -0.3, "encode": {"labels": {"update": {"fill": {"signal": "datum.value == 'TexasRed (hemifusion)' ? '#ef2b2b' : '#2eb22e'"}}}}}}
   }},
  {"transform": [{"filter": "datum.s == 'Calcein (content release)'"}], "mark": "line",
   "encoding": {
    "x": {"field": "t", "type": "quantitative", "scale": {"domain": [0, 30], "nice": false, "zero": false}, "axis": {"orient": "top", "title": "Sample Particle 2", "labels": false, "ticks": false, "domain": false, "titlePadding": 7, "titleFontSize": 8.3}},
    "y": {"field": "v", "type": "quantitative", "scale": {"domain": [-0.2, 1.5], "nice": false, "zero": false}, "axis": {"values": [0, 0.5, 1, 1.5], "format": ".1f", "title": "Relative Intensity", "titlePadding": 3}},
    "color": {"field": "s", "type": "nominal", "scale": {"domain": ["TexasRed (hemifusion)", "Calcein (content release)"], "range": ["#ef2b2b", "#2eb22e"]}, "legend": {"title": null, "orient": "none", "legendX": 81.3, "legendY": -0.3, "encode": {"labels": {"update": {"fill": {"signal": "datum.value == 'TexasRed (hemifusion)' ? '#ef2b2b' : '#2eb22e'"}}}}}}
   }}
 ],
 "resolve": {"axis": {"x": "independent"}}
},
{
 "data": {"name": "b3"}, "width": 176, "height": 118.3,
 "title": {"text": "iii.", "dx": -41, "dy": 12.5},
 "layer": [
  {"transform": [{"filter": "datum.s == 'TexasRed (hemifusion)'"}], "mark": "line",
   "encoding": {
    "x": {"field": "t", "type": "quantitative", "scale": {"domain": [0, 30], "nice": false, "zero": false}, "axis": {"orient": "bottom", "values": [5, 10, 15, 20, 25, 30], "title": "Time (s)", "offset": -13.9, "titlePadding": 6, "domainColor": "#6e6e6e", "domainWidth": 2}},
    "y": {"field": "v", "type": "quantitative", "scale": {"domain": [-0.2, 1.5], "nice": false, "zero": false}, "axis": {"values": [0, 0.5, 1, 1.5], "format": ".1f", "title": "Relative Intensity", "titlePadding": 3}},
    "color": {"field": "s", "type": "nominal", "scale": {"domain": ["TexasRed (hemifusion)", "Calcein (content release)"], "range": ["#ef2b2b", "#2eb22e"]}, "legend": {"title": null, "orient": "none", "legendX": 78, "legendY": 6.7, "encode": {"labels": {"update": {"fill": {"signal": "datum.value == 'TexasRed (hemifusion)' ? '#ef2b2b' : '#2eb22e'"}}}}}}
   }},
  {"transform": [{"filter": "datum.s == 'Calcein (content release)'"}], "mark": "line",
   "encoding": {
    "x": {"field": "t", "type": "quantitative", "scale": {"domain": [0, 30], "nice": false, "zero": false}, "axis": {"orient": "top", "title": "Sample Particle 3", "labels": false, "ticks": false, "domain": false, "titlePadding": 9.5, "titleFontSize": 8.3}},
    "y": {"field": "v", "type": "quantitative", "scale": {"domain": [-0.2, 1.5], "nice": false, "zero": false}, "axis": {"values": [0, 0.5, 1, 1.5], "format": ".1f", "title": "Relative Intensity", "titlePadding": 3}},
    "color": {"field": "s", "type": "nominal", "scale": {"domain": ["TexasRed (hemifusion)", "Calcein (content release)"], "range": ["#ef2b2b", "#2eb22e"]}, "legend": {"title": null, "orient": "none", "legendX": 78, "legendY": 6.7, "encode": {"labels": {"update": {"fill": {"signal": "datum.value == 'TexasRed (hemifusion)' ? '#ef2b2b' : '#2eb22e'"}}}}}}
   }}
 ],
 "resolve": {"axis": {"x": "independent"}}
}
]
}
